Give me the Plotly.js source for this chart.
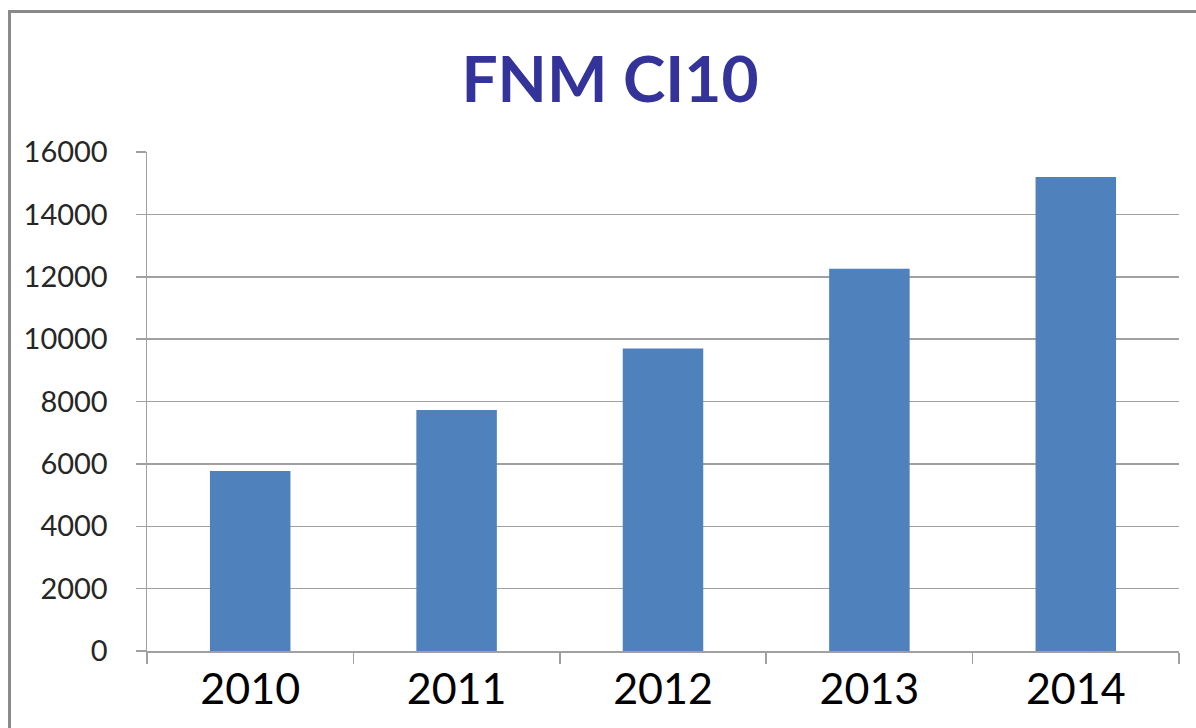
<!DOCTYPE html>
<html>
<head>
<meta charset="utf-8">
<script src="https://cdn.plot.ly/plotly-3.0.1.min.js"></script>
<style>
  html, body { margin: 0; padding: 0; background: #fff; }
  #wrap { position: relative; width: 1196px; height: 728px; overflow: hidden; }
  #chart { width: 1196px; height: 728px; }
  #frame { position: absolute; left: 8px; top: 10px; width: 1300px; height: 800px;
           border-left: 3px solid #8a8a8a; border-top: 3px solid #8a8a8a; pointer-events: none; }
</style>
</head>
<body>
<div id="wrap">
  <div id="chart"></div>
  <div id="frame"></div>
</div>
<script>
const years = ["2010", "2011", "2012", "2013", "2014"];
const values = [5770, 7730, 9700, 12260, 15200];
const yTicks = [0, 2000, 4000, 6000, 8000, 10000, 12000, 14000, 16000];
const chartTitle = "FNM CI10";

const trace = {
  type: "bar",
  x: years,
  y: values,
  marker: { color: "#4F81BD" },
  hoverinfo: "x+y"
};

const layout = {
  width: 1196,
  height: 728,
  margin: { l: 147, r: 17, t: 152, b: 77, pad: 0 },
  paper_bgcolor: "rgba(0,0,0,0)",
  plot_bgcolor: "#ffffff",
  bargap: 0.61,
  showlegend: false,
  font: { family: "Lato, 'Open Sans', sans-serif", color: "#000" },
  title: {
    text: "<b>" + chartTitle + "</b>",
    font: { family: "Lato, 'Open Sans', sans-serif", size: 64, color: "#333399" },
    x: 0.51, xanchor: "center",
    y: 0.89, yanchor: "middle"
  },
  xaxis: {
    type: "category",
    showline: true, linecolor: "#a0a0a0", linewidth: 1.5,
    ticks: "outside", tickson: "boundaries", ticklen: 11, tickcolor: "#a0a0a0", tickwidth: 1.5,
    tickfont: { size: 43, color: "#000" },
    showgrid: false, zeroline: false
  },
  yaxis: {
    range: [0, 16000],
    tickvals: yTicks,
    ticktext: yTicks.map(String),
    showline: true, linecolor: "#a0a0a0", linewidth: 1.5,
    ticks: "outside", ticklen: 10, tickcolor: "#a0a0a0", tickwidth: 1.5,
    showgrid: true, gridcolor: "#a0a0a0", gridwidth: 1.5,
    zeroline: false,
    tickfont: { size: 29, color: "#262626" },
    ticklabelstandoff: 22
  }
};

Plotly.newPlot("chart", [trace], layout, { displayModeBar: false, staticPlot: true });
</script>
</body>
</html>
